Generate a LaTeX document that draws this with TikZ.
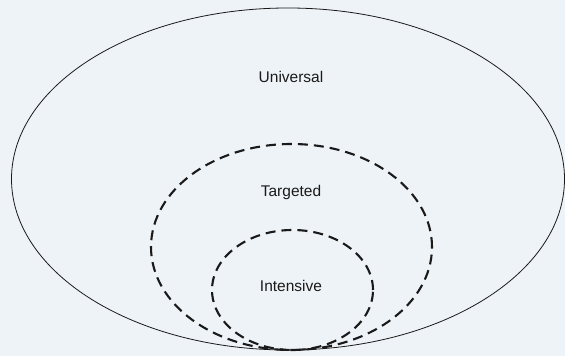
\documentclass[tikz,border=0pt]{standalone}
\usepackage{fontspec}
\setmainfont{Liberation Sans}
\definecolor{bgcol}{HTML}{EEF3F7}
\definecolor{linecol}{HTML}{1A1A1A}
\begin{document}
\begin{tikzpicture}[x=1pt,y=1pt,
  solidring/.style={draw=linecol,line width=0.8pt},
  dashring/.style={draw=linecol,line width=2.1pt,dash pattern=on 10pt off 6pt},
  lbl/.style={font=\fontsize{15.5}{18}\selectfont,text=linecol,inner sep=0pt}]
\fill[bgcol] (0,0) rectangle (565,356);
\useasboundingbox (0,0) rectangle (565,356);
\draw[solidring] (288,177) ellipse [x radius=276.5, y radius=171];
\draw[dashring] (291.5,109) ellipse [x radius=140.5, y radius=103];
\draw[dashring] (292.5,66) ellipse [x radius=80.5, y radius=60];
\node[lbl] (universal) at (291,279) {Universal};
\node[lbl] (targeted) at (291,164) {Targeted};
\node[lbl] (intensive) at (291,70) {Intensive};
\end{tikzpicture}
\end{document}
